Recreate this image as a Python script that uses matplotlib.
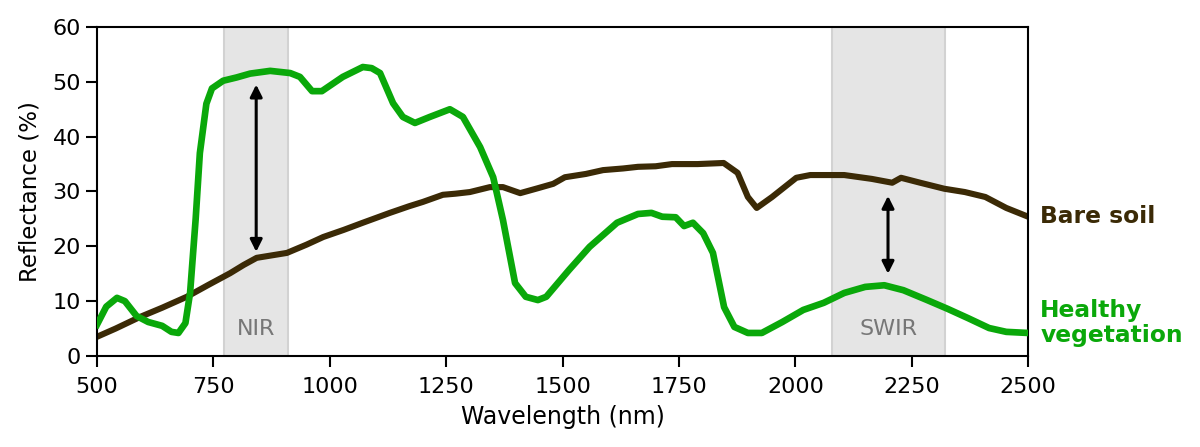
import matplotlib
matplotlib.use("Agg")
import matplotlib.pyplot as plt

# healthy vegetation spectrum
veg_nm = [500, 520, 543, 560, 585, 610, 640, 660, 675, 690, 700, 712, 721, 735, 747, 771,
          800, 829, 872, 915, 936, 962, 983, 1028, 1071, 1090, 1108, 1136, 1157, 1183,
          1215, 1258, 1286, 1323, 1351, 1372, 1398, 1421, 1447, 1465, 1514, 1558, 1617,
          1662, 1691, 1714, 1743, 1761, 1780, 1802, 1823, 1847, 1869, 1898, 1928, 1972,
          2017, 2061, 2105, 2150, 2191, 2232, 2283, 2327, 2371, 2416, 2453, 2500]
veg_refl = [5.7, 9.0, 10.6, 10.0, 7.3, 6.2, 5.5, 4.4, 4.2, 6.0, 11.5, 25.0, 37.0, 46.0, 48.8, 50.2,
            50.8, 51.5, 52.0, 51.6, 50.9, 48.3, 48.3, 50.9, 52.7, 52.5, 51.6, 46.1, 43.6, 42.5,
            43.6, 45.0, 43.6, 38.1, 32.6, 24.8, 13.3, 10.8, 10.2, 10.8, 15.7, 19.9, 24.3,
            25.9, 26.1, 25.4, 25.3, 23.7, 24.3, 22.4, 18.8, 8.9, 5.3, 4.2, 4.2, 6.2,
            8.4, 9.7, 11.5, 12.6, 12.9, 12.0, 10.2, 8.6, 6.9, 5.1, 4.4, 4.2]

# bare soil spectrum
soil_nm = [500, 540, 592, 640, 693, 740, 786, 815, 843, 908, 950, 986, 1030, 1071, 1129,
           1170, 1200, 1243, 1270, 1301, 1344, 1372, 1409, 1447, 1480, 1505, 1550, 1587,
           1630, 1662, 1700, 1735, 1790, 1846, 1876, 1898, 1917, 1950, 2002, 2032, 2105,
           2164, 2208, 2227, 2268, 2320, 2364, 2408, 2453, 2500]
soil_refl = [3.5, 5.0, 7.1, 8.8, 10.8, 13.0, 15.1, 16.6, 17.9, 18.8, 20.3, 21.7, 23.0, 24.3, 26.1,
             27.3, 28.1, 29.4, 29.6, 29.9, 30.8, 30.8, 29.7, 30.6, 31.4, 32.6, 33.2, 33.9,
             34.2, 34.5, 34.6, 35.0, 35.0, 35.2, 33.4, 29.0, 27.0, 29.0, 32.5, 33.0, 33.0,
             32.3, 31.6, 32.5, 31.6, 30.5, 29.9, 29.0, 27.0, 25.4]

bands = [("NIR", 773, 910, 842), ("SWIR", 2078, 2322, 2199)]
arrows = [(842, 19.0, 49.5), (2199, 15.0, 29.2)]

veg_color = "#0aa80a"
soil_color = "#3b2a06"

fig = plt.figure(figsize=(12, 4.47), dpi=100)
ax = fig.add_axes([0.0808, 0.2036, 0.776, 0.736])

for name, lo, hi, mid in bands:
    ax.axvspan(lo, hi, facecolor="#e5e5e5", edgecolor="#d2d2d2", lw=1.5, zorder=0)
    ax.text(mid, 5.0, name, ha="center", va="center", color="#777777", fontsize=16)

ax.plot(soil_nm, soil_refl, color=soil_color, lw=4.4, zorder=2)
ax.plot(veg_nm, veg_refl, color=veg_color, lw=4.8, zorder=3)

for x, y0, y1 in arrows:
    ax.annotate("", xy=(x, y1), xytext=(x, y0),
                arrowprops=dict(arrowstyle="<|-|>", color="black", lw=2.2,
                                mutation_scale=18, shrinkA=0, shrinkB=0), zorder=4)

ax.set_xlim(500, 2500)
ax.set_ylim(0, 60)
ax.set_xticks([500, 750, 1000, 1250, 1500, 1750, 2000, 2250, 2500])
ax.set_yticks([0, 10, 20, 30, 40, 50, 60])
ax.tick_params(labelsize=16, length=8, width=1.5)
ax.tick_params(axis="x", pad=7)
for s in ax.spines.values():
    s.set_linewidth(1.5)
ax.set_xlabel("Wavelength (nm)", fontsize=17, labelpad=6)
ax.set_ylabel("Reflectance (%)", fontsize=16.5, labelpad=8)

ax.text(1.013, 0.425, "Bare soil", transform=ax.transAxes, color=soil_color,
        fontsize=16.8, fontweight="bold", ha="left", va="center")
ax.text(1.013, 0.10, "Healthy\nvegetation", transform=ax.transAxes, color=veg_color,
        fontsize=16.8, fontweight="bold", ha="left", va="center", linespacing=1.1)

fig.savefig("out.png", dpi=100)
